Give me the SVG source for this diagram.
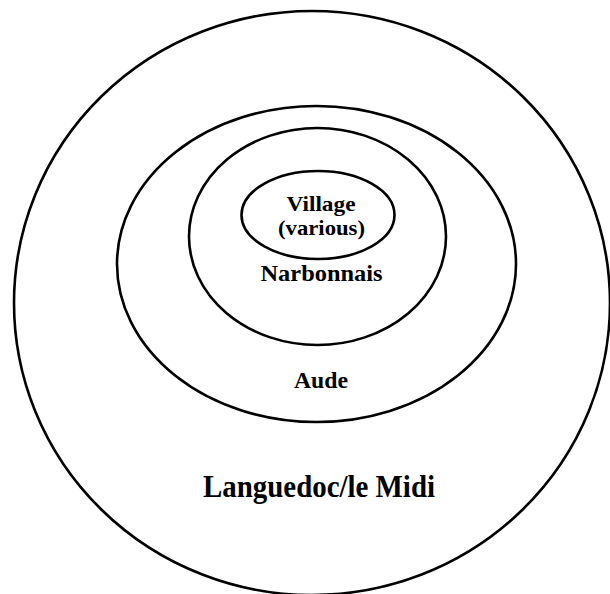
<svg xmlns="http://www.w3.org/2000/svg" width="610" height="594" viewBox="0 0 610 594">
  <style>
    .ring { fill: none; stroke: #000; stroke-width: 2.6; }
    .lbl { font-family: "Liberation Serif", "Times New Roman", serif; font-weight: bold; fill: #000; text-anchor: middle; }
  </style>
  <rect width="610" height="594" fill="#fff"/>
  <g id="languedoc">
    <ellipse class="ring" cx="312" cy="303" rx="298" ry="292"/>
    <text class="lbl" x="319" y="497" font-size="32" textLength="232" lengthAdjust="spacingAndGlyphs">Languedoc/le Midi</text>
  </g>
  <g id="aude">
    <ellipse class="ring" cx="316.5" cy="264" rx="199.5" ry="158"/>
    <text class="lbl" x="321" y="388" font-size="24" textLength="54" lengthAdjust="spacingAndGlyphs">Aude</text>
  </g>
  <g id="narbonnais">
    <ellipse class="ring" cx="317.5" cy="236.5" rx="128.5" ry="108.5"/>
    <text class="lbl" x="321.5" y="281" font-size="23" textLength="122" lengthAdjust="spacingAndGlyphs">Narbonnais</text>
  </g>
  <g id="village">
    <ellipse class="ring" cx="318" cy="215" rx="76.5" ry="44"/>
    <text class="lbl" x="321" y="211" font-size="22" textLength="69" lengthAdjust="spacingAndGlyphs">Village</text>
    <text class="lbl" x="321.5" y="235" font-size="22" textLength="87" lengthAdjust="spacingAndGlyphs">(various)</text>
  </g>
</svg>
